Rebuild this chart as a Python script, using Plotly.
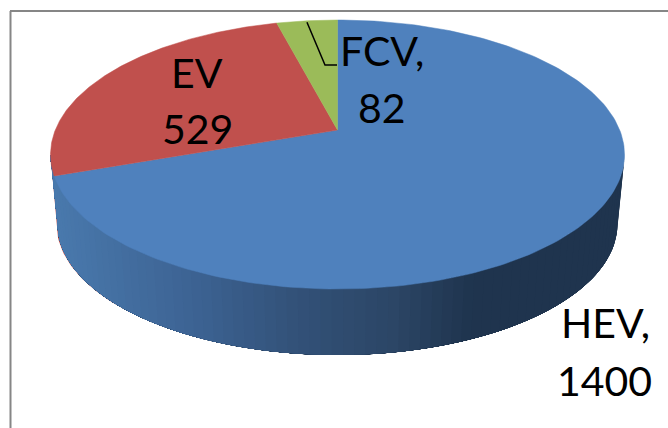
import numpy as np
import plotly.graph_objects as go

categories = ["HEV", "EV", "FCV"]
values = [1400, 529, 82]
colors = ["#4F81BD", "#C0504D", "#9BBB59"]
red_wall = "#C0504D"
label_lines = [["HEV,", "1400"], ["EV", "529"], ["FCV,", "82"]]
label_pos = [[(605, 322), (604, 380)], [(197, 72), (197, 128)], [(382, 50), (382, 107)]]

# Projection of the 3D disc (pixels)
APEX_X, APEX_Y = 337.5, 130
TOP_EDGE, FRONT_EDGE = 20, 289
HALF_W = 287
WALL_BOTTOM = 355
BOT_HALF_W = 280
BOT_CY = 224

up, down = APEX_Y - TOP_EDGE, FRONT_EDGE - APEX_Y
p = (down - up) / (down + up)
q = up * (1 + p)
s = HALF_W * np.sqrt(1 - p * p)
TOP_CY = (TOP_EDGE + FRONT_EDGE) / 2
TOP_B = (FRONT_EDGE - TOP_EDGE) / 2
BOT_B = WALL_BOTTOM - BOT_CY


def project(theta):
    X, Y = np.sin(theta), np.cos(theta)
    d = 1 + p * Y
    return APEX_X + s * X / d, APEX_Y - q * Y / d


def wall_color(x):
    stops_x = [50, 200, 300, 400, 480, 630]
    stops = np.array([[74, 122, 174], [61, 99, 147], [51, 82, 121], [44, 70, 102], [31, 52, 78], [31, 52, 78]])
    return "rgb(%d,%d,%d)" % tuple(np.interp(x, stops_x, stops[:, i]) for i in range(3))


def wall_polygon(t_a, t_b, n=80, bottom_half_w=BOT_HALF_W):
    tt = np.linspace(t_a, t_b, n)
    wx = np.r_[APEX_X + HALF_W * np.cos(tt), APEX_X + bottom_half_w * np.cos(tt[::-1])]
    wy = np.r_[TOP_CY + TOP_B * np.sin(tt), BOT_CY + BOT_B * np.sin(tt[::-1])]
    return wx, wy


fig = go.Figure()

total = sum(values)
fractions = np.array(values) / total
edges = np.concatenate([[0], np.cumsum(fractions)]) * 2 * np.pi

# faint red fringe on the far left, just outside the blue wall
wx, wy = wall_polygon(2.4, np.pi, 30, BOT_HALF_W + 1)
fig.add_trace(go.Scatter(x=wx, y=wy, mode="lines", fill="toself", fillcolor=red_wall,
                         line=dict(color=red_wall, width=0), hoverinfo="skip", showlegend=False))

# side wall: painted from the right to the left, every strip reaching the far end,
# so no background shows between neighbouring strips
ts = np.linspace(0, np.pi, 80)
for t0 in ts[:-1]:
    wx, wy = wall_polygon(t0, np.pi)
    c = wall_color(APEX_X + HALF_W * np.cos(t0))
    fig.add_trace(go.Scatter(x=wx, y=wy, mode="lines", fill="toself", fillcolor=c,
                             line=dict(color=c, width=0), hoverinfo="skip", showlegend=False))

# top face
for i, name in enumerate(categories):
    th = np.linspace(edges[i], edges[i + 1], 200)
    x, y = project(th)
    fig.add_trace(go.Scatter(x=np.r_[APEX_X, x, APEX_X], y=np.r_[APEX_Y, y, APEX_Y], mode="lines",
                             fill="toself", fillcolor=colors[i], line=dict(color=colors[i], width=0.5),
                             name=name, hoverinfo="name", showlegend=False))

# leader line for FCV
leader_start = project(edges[2] + (edges[3] - edges[2]) * 0.5)
fig.add_trace(go.Scatter(x=[leader_start[0], 325, 337], y=[leader_start[1] + 1.5, 65, 65], mode="lines",
                         line=dict(color="black", width=1.5), hoverinfo="skip", showlegend=False))

annotations = []
for lines, poss in zip(label_lines, label_pos):
    for text, (lx, ly) in zip(lines, poss):
        annotations.append(dict(x=lx, y=ly, xref="x", yref="y", text=text, showarrow=False,
                                xanchor="center", yanchor="middle",
                                font=dict(family="Lato", size=41, color="black")))

fig.update_layout(
    width=668, height=428, margin=dict(l=0, r=0, t=0, b=0),
    paper_bgcolor="white", plot_bgcolor="white", showlegend=False,
    xaxis=dict(range=[0, 668], visible=False, fixedrange=True),
    yaxis=dict(range=[428, 0], visible=False, fixedrange=True),
    annotations=annotations,
    shapes=[
        dict(type="line", x0=10.5, x1=10.5, y0=11, y1=428, xref="x", yref="y", line=dict(color="#868686", width=2)),
        dict(type="line", x0=10, x1=668, y0=11, y1=11, xref="x", yref="y", line=dict(color="#868686", width=2)),
    ],
)
fig.write_html("out.html", config=dict(displayModeBar=False),
               post_script="document.body.style.margin='0';document.body.style.overflow='hidden';")
